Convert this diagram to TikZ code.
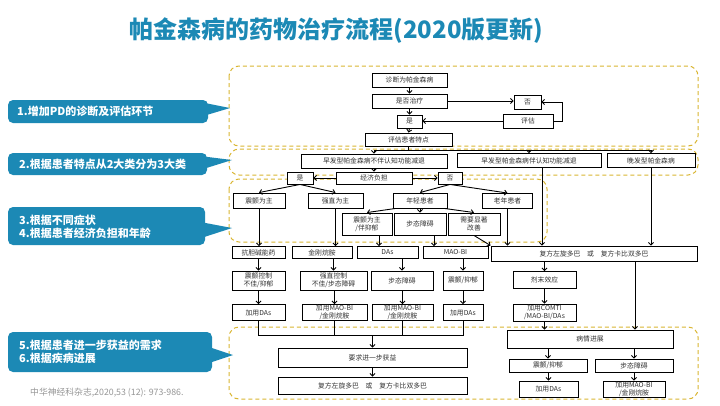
\documentclass[tikz,border=0pt]{standalone}
\usepackage{fontspec}
\setmainfont{Noto Sans CJK SC}
\usetikzlibrary{arrows.meta}
\definecolor{tblue}{RGB}{28,137,181}
\definecolor{gold}{RGB}{218,182,50}
\definecolor{txt}{RGB}{50,50,50}
\definecolor{cite}{RGB}{150,150,150}
\newcommand\bxn[6]{\node[bx, minimum width=#4pt, minimum height=#5pt] (#1) at (#2,#3) {#6};}
\begin{document}
\begin{tikzpicture}[x=1pt,y=-1pt,
 bx/.style={draw=black, line width=0.9pt, fill=white, inner sep=0pt, font=\fontsize{6.8}{7.6}\selectfont, text=txt, align=center},
 arr/.style={line width=0.9pt, -{Straight Barb[length=2.5pt,width=5pt,line width=0.9pt]}},
 ln/.style={line width=0.9pt},
 dbox/.style={draw=gold, line width=1pt, dash pattern=on 4pt off 3pt, rounded corners=10pt},
 callout/.style={fill=tblue, rounded corners=5pt, inner sep=0pt},
 wedge/.style={fill=tblue},
 calltext/.style={text=white, font=\fontsize{11}{13}\selectfont\bfseries, align=left, inner sep=0pt, anchor=west}]

\useasboundingbox[fill=white] (0,0) rectangle (720,405);

% title
\node[font=\fontsize{24}{28}\selectfont\bfseries, text=tblue] (title) at (336.5,31) {帕金森病的药物治疗流程(2020版更新)};

% dashed frames
\draw[dbox] (229,66) rectangle (698,146);
\draw[dbox] (229,149) rectangle (698,175);
\draw[dbox] (229,179) rectangle (547,242);
\draw[dbox] (229,327) rectangle (698,399);

% callouts
\node[callout, minimum width=200pt, minimum height=23pt] (k1) at (108,111.5) {};
\fill[wedge] (200,102) -- (230,108) -- (200,117) -- cycle;
\node[calltext] (k1t) at (17,111.5) {1.增加PD的诊断及评估环节};

\node[callout, minimum width=199pt, minimum height=22pt] (k2) at (107.5,164) {};
\fill[wedge] (200,156) -- (232,160) -- (200,170) -- cycle;
\node[calltext] (k2t) at (19,164.5) {2.根据患者特点从2大类分为3大类};

\node[callout, minimum width=197pt, minimum height=38pt] (k3) at (106.5,226) {};
\fill[wedge] (195,221) -- (232,228) -- (195,240) -- cycle;
\node[calltext] (k3t) at (19,227) {3.根据不同症状\\4.根据患者经济负担和年龄};

\node[callout, minimum width=204pt, minimum height=40pt] (k5) at (110,352) {};
\fill[wedge] (200,344) -- (233,355) -- (200,366) -- cycle;
\node[calltext] (k5t) at (19,351.5) {5.根据患者进一步获益的需求\\6.根据疾病进展};

\node[text=cite, font=\fontsize{8.8}{10}\selectfont, anchor=west, inner sep=0pt] (cit) at (30,393) {中华神经科杂志,2020,53 (12): 973-986.};

% top section
\bxn{d1}{409.5}{80}{75}{14}{诊断为帕金森病}
\bxn{d2}{409.5}{101}{75}{14}{是否治疗}
\bxn{ys1}{409.5}{121.5}{25}{13}{是}
\bxn{no1}{527.5}{102}{27}{14}{否}
\bxn{pg}{528}{121}{50}{14}{评估}
\bxn{pt}{408.5}{139.5}{87}{13}{评估患者特点}

\draw[arr] (d1.south) -- (d2.north);
\draw[arr] (d2.south) -- (ys1.north);
\draw[arr] (ys1.south) -- (pt.north);
\draw[arr] (d2.east) -- (d2.east -| no1.west);
\draw[arr] (pg.west) -- (pg.west -| ys1.east);
\draw[arr] (pg.east) -- ++(9,0) |- (no1.east);

% categories
\bxn{c1}{374}{161}{146}{14}{早发型帕金森病不伴认知功能减退}
\bxn{c2}{529}{160.5}{144}{14}{早发型帕金森病伴认知功能减退}
\bxn{c3}{651}{160.5}{88}{14}{晚发型帕金森病}
\coordinate (bus) at (0,150);
\draw[ln] (pt.south) -- (pt.south |- bus);
\draw[ln] (c1.north |- bus) -- (c3.north |- bus);
\draw[arr] (c1.north |- bus) -- (c1.north);
\draw[arr] (c2.north |- bus) -- (c2.north);
\draw[arr] (c3.north |- bus) -- (c3.north);

% economic / age
\bxn{ys2}{300}{178}{26}{12}{是}
\bxn{jj}{374}{178}{76}{12}{经济负担}
\bxn{no2}{450}{178}{24}{12}{否}
\draw[arr] (c1.south) -- (c1.south |- jj.north);
\draw[arr] (jj.west) -- (ys2.east);
\draw[arr] (jj.east) -- (no2.west);

\bxn{zc1}{259}{200.5}{52}{15}{震颤为主}
\bxn{qz}{335.5}{200.5}{55}{15}{强直为主}
\bxn{qn}{420}{200.5}{54}{15}{年轻患者}
\bxn{lp}{507.5}{201}{50}{15}{老年患者}
\draw[arr] (ys2.south) -- (zc1.north);
\draw[arr] (ys2.south) -- (qz.north);
\draw[arr] (no2.south) -- (qn.north);
\draw[arr] (no2.south) -- (lp.north);

\bxn{zy}{367}{224}{50}{22}{震颤为主\\/伴抑郁}
\bxn{bt}{420}{224}{52}{22}{步态障碍}
\bxn{xy}{474}{224}{52}{22}{需要显著\\改善}
\draw[arr] ([xshift=3pt]qn.south west) -- (zy.north);
\draw[arr] (qn.south) -- (bt.north);
\draw[arr] ([xshift=-3pt]qn.south east) -- (xy.north);

% row A
\bxn{kd}{258.5}{252.5}{53}{12}{抗胆碱能药}
\bxn{jg}{322}{252.5}{60}{12}{金刚烷胺}
\bxn{das}{387.5}{252.5}{61}{12}{DAs}
\bxn{mao}{455.5}{252.5}{65}{12}{MAO-BI}
\bxn{wide}{594}{253.5}{206}{15}{复方左旋多巴\quad 或\quad 复方卡比双多巴}
\draw[arr] (zc1.south) -- (zc1.south |- kd.north);
\draw[arr] (qz.south) -- (qz.south |- jg.north);
\draw[arr] ([xshift=12pt]zy.south) -- ([xshift=12pt]zy.south |- das.north);
\draw[arr] ([xshift=14pt]bt.south) -- ([xshift=14pt]bt.south |- mao.north);
\draw[arr] (xy.south) -- (wide.north west);
\draw[arr] (lp.south) -- (lp.south |- wide.north);
\draw[arr] ([xshift=13pt]c2.south) -- ([xshift=13pt]c2.south |- wide.north);
\draw[arr] (c3.south) -- (c3.south |- wide.north);

% row B
\bxn{b1}{258.5}{280.5}{53}{19}{震颤控制\\不佳/抑郁}
\bxn{b2}{333.5}{280.5}{67}{19}{强直控制\\不佳/步态障碍}
\bxn{b3}{402}{280.5}{62}{19}{步态障碍}
\bxn{b4}{463}{280.5}{40}{19}{震颤/抑郁}
\bxn{b5}{544.5}{280}{63}{17}{剂末效应}
\draw[arr] (kd.south) -- (kd.south |- b1.north);
\draw[arr] (jg.south -| b2.north) -- (b2.north);
\draw[arr] (das.south -| b3.north) -- (b3.north);
\draw[arr] (mao.south -| b4.north) -- (b4.north);
\draw[arr] (wide.south -| b5.north) -- (b5.north);

% row C
\bxn{e1c}{258.5}{312.5}{53}{16}{加用DAs}
\bxn{e2c}{334.5}{312.5}{65}{16}{加用MAO-BI\\/金刚烷胺}
\bxn{e3c}{402.5}{312.5}{61}{16}{加用MAO-BI\\/金刚烷胺}
\bxn{e4c}{463}{312.5}{40}{16}{加用DAs}
\bxn{e5c}{544.5}{312.5}{63}{17}{加用COMTI\\/MAO-BI/DAs}
\draw[arr] (e1c.north |- b1.south) -- (e1c.north);
\draw[arr] (e2c.north |- b2.south) -- (e2c.north);
\draw[arr] (e3c.north |- b3.south) -- (e3c.north);
\draw[arr] (e4c.north |- b4.south) -- (e4c.north);
\draw[arr] (e5c.north |- b5.south) -- (e5c.north);

% bottom left
\bxn{yq}{372.5}{357.5}{189}{19}{要求进一步获益}
\bxn{ff}{372.5}{385.5}{189}{17}{复方左旋多巴\quad 或\quad 复方卡比双多巴}
\coordinate (lb) at (0,335);
\draw[ln] (e1c.south) -- (e1c.south |- lb) -- (e4c.south |- lb) -- (e4c.south);
\draw[ln] (e2c.south) -- (e2c.south |- lb);
\draw[ln] (e3c.south) -- (e3c.south |- lb);
\draw[arr] (yq.north |- lb) -- (yq.north);
\draw[arr] (yq.south) -- (ff.north);

% bottom right
\bxn{bq}{590}{339}{166}{18}{病情进展}
\bxn{g1}{548}{365.5}{78}{13}{震颤/抑郁}
\bxn{g2}{634}{365.5}{78}{13}{步态障碍}
\bxn{h1}{548.5}{389}{59}{16}{加用DAs}
\bxn{h2}{634}{389}{62}{16}{加用MAO-BI\\/金刚烷胺}
\draw[arr] (e5c.south) -- (e5c.south |- bq.north);
\draw[arr] ([xshift=41pt]wide.south) -- ([xshift=41pt]wide.south |- bq.north);
\draw[arr] (bq.south -| g1.north) -- (g1.north);
\draw[arr] (bq.south -| g2.north) -- (g2.north);
\draw[arr] (g1.south -| h1.north) -- (h1.north);
\draw[arr] (g2.south) -- (h2.north);
\end{tikzpicture}
\end{document}
